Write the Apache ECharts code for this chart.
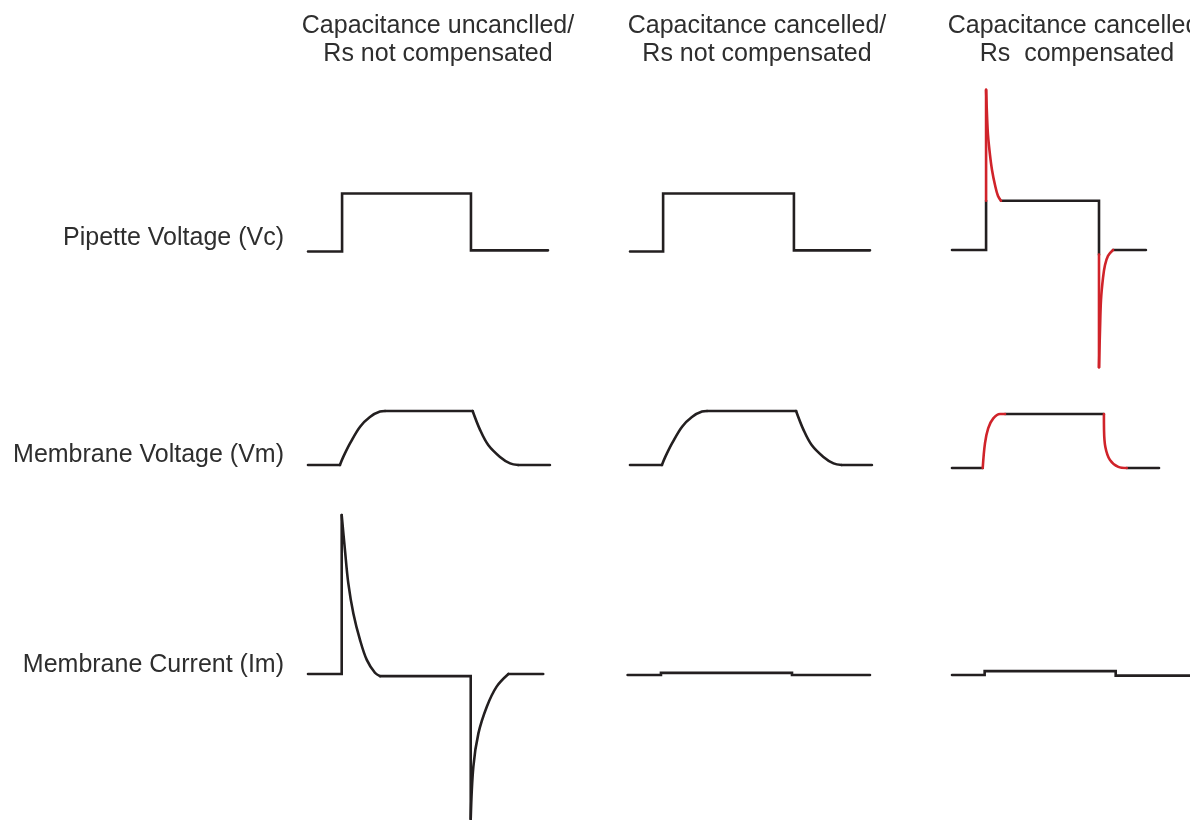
<!DOCTYPE html>
<html>
<head>
<meta charset="utf-8">
<script src="https://cdn.jsdelivr.net/npm/echarts@6/dist/echarts.min.js"></script>
<style>
html,body{margin:0;padding:0;background:#fff;}
#chart{width:1190px;height:820px;}
</style>
</head>
<body>
<div id="chart"></div>
<script>
// ---------------- DATA ----------------
const colTitles = [
  'Capacitance uncanclled/\nRs not compensated',
  'Capacitance cancelled/\nRs not compensated',
  'Capacitance cancelled/\nRs  compensated'
];
const rowLabels = ['Pipette Voltage (Vc)', 'Membrane Voltage (Vm)', 'Membrane Current (Im)'];

// [time, value] pairs — Pipette voltage (Vc)
const vcCol1 = [[0,0],[14.2,0],[14.2,10],[67.9,10],[67.9,0.2],[100,0.2]];
const vcCol2 = [[0,0],[13.8,0],[13.8,10],[68.3,10],[68.3,0.2],[100,0.2]];
const vcCol3Base = [[0,0],[14.2,0],[14.2,8.5]];
const vcCol3Top = [[20.4,8.5],[61.25,8.5],[61.25,-0.8]];
const vcCol3End = [[67.1,0],[80.8,0]];
const vcCol3RedUp = [[14.2,8.5],[14.2,27.6]];
const vcCol3RedDecay = [[14.2,27.6],[14.58,23.3],[15.0,19.8],[15.83,16.4],[16.67,13.8],[17.92,11.2],[19.17,9.3],[20.4,8.5]];
const vcCol3RedDrop = [[61.25,-0.8],[61.25,-20.2]];
const vcCol3RedRecover = [[61.25,-20.2],[61.67,-13.8],[62.08,-8.6],[62.92,-4.8],[63.75,-2.6],[65.0,-1.0],[67.1,0]];

// Membrane voltage (Vm)
const vmCol1Base = [[0,0],[13.3,0]];
const vmCol1Rise = [[13.3,0],[14.7,1.5],[17.5,4.0],[21.7,7.1],[25.8,8.9],[30,9.9],[32.1,10]];
const vmCol1Top = [[32.1,10],[68.6,10]];
const vmCol1Fall = [[68.6,10],[71.7,6.5],[75.1,3.7],[80,1.5],[84.2,0.3],[87.6,0]];
const vmCol1End = [[87.6,0],[100.8,0]];
const vmCol2Base = [[0,0],[13.3,0]];
const vmCol2Rise = [[13.3,0],[14.7,1.5],[17.5,4.0],[21.7,7.1],[25.8,8.9],[30,9.9],[32.1,10]];
const vmCol2Top = [[32.1,10],[69.2,10]];
const vmCol2Fall = [[69.2,10],[72.3,6.5],[75.7,3.7],[80.6,1.5],[84.8,0.3],[88.2,0]];
const vmCol2End = [[88.2,0],[100.8,0]];
const vmCol3Base = [[0,0],[12.8,0]];
const vmCol3RedRise = [[12.8,0],[13.75,4.6],[15.1,7.4],[17.2,9.2],[20,10],[22.1,10]];
const vmCol3Top = [[22.1,10],[63.3,10]];
const vmCol3RedFall = [[63.3,10],[63.35,7.0],[63.9,3.9],[65.8,1.5],[69.3,0.2],[72.8,0]];
const vmCol3End = [[72.8,0],[86.25,0]];

// Membrane current (Im)
const imCol1Spike = [[0,0],[14.04,0],[14.04,53]];
const imCol1Decay = [[14.04,53],[15.4,41.3],[16.8,30.2],[18.9,20.2],[21.7,11.3],[24.5,4.7],[27.9,0.4],[30,-0.7]];
const imCol1Drop = [[30,-0.7],[67.8,-0.7],[67.8,-48.3]];
const imCol1Recover = [[67.8,-48.3],[68.9,-30.9],[71.0,-19.8],[74.5,-10.9],[78.6,-4.2],[83.5,0]];
const imCol1End = [[83.5,0],[98,0]];
const imCol2 = [[-1,0],[12.9,0],[12.9,0.7],[67.5,0.7],[67.5,0],[100,0]];
const imCol3 = [[0,0],[13.6,0],[13.6,1.3],[68.2,1.3],[68.2,-0.2],[100.5,-0.2]];

// ---------------- LAYOUT / STYLE ----------------
const BLACK = '#231f20', RED = '#d0232a';
const colX0 = [308, 630, 952];          // pixel of t = 0 for each column
const colTMax = [105, 105, 99];         // keep grids inside the canvas
const pxPerT = 2.4;
const tMin = -5;
const rows = [
  {scale: 5.8, ymin: -25, ymax: 30, base: [251.5, 251.5, 250]},
  {scale: 5.4, ymin: -3, ymax: 13, base: [465, 465, 468]},
  {scale: 3.0, ymin: -48.3, ymax: 56, base: [674, 675, 675]}
];

const traces = [
  {r:0,c:0,d:vcCol1}, {r:0,c:1,d:vcCol2},
  {r:0,c:2,d:vcCol3Base}, {r:0,c:2,d:vcCol3Top}, {r:0,c:2,d:vcCol3End},
  {r:0,c:2,d:vcCol3RedUp,red:1}, {r:0,c:2,d:vcCol3RedDecay,red:1,sm:1},
  {r:0,c:2,d:vcCol3RedDrop,red:1}, {r:0,c:2,d:vcCol3RedRecover,red:1,sm:1},
  {r:1,c:0,d:vmCol1Base}, {r:1,c:0,d:vmCol1Rise,sm:1}, {r:1,c:0,d:vmCol1Top}, {r:1,c:0,d:vmCol1Fall,sm:1}, {r:1,c:0,d:vmCol1End},
  {r:1,c:1,d:vmCol2Base}, {r:1,c:1,d:vmCol2Rise,sm:1}, {r:1,c:1,d:vmCol2Top}, {r:1,c:1,d:vmCol2Fall,sm:1}, {r:1,c:1,d:vmCol2End},
  {r:1,c:2,d:vmCol3Base}, {r:1,c:2,d:vmCol3RedRise,red:1,sm:1}, {r:1,c:2,d:vmCol3Top}, {r:1,c:2,d:vmCol3RedFall,red:1,sm:1}, {r:1,c:2,d:vmCol3End},
  {r:2,c:0,d:imCol1Spike}, {r:2,c:0,d:imCol1Decay,sm:1}, {r:2,c:0,d:imCol1Drop}, {r:2,c:0,d:imCol1Recover,sm:1}, {r:2,c:0,d:imCol1End},
  {r:2,c:1,d:imCol2}, {r:2,c:2,d:imCol3}
];

const grids = [], xAxes = [], yAxes = [];
rows.forEach((row, r) => {
  for (let c = 0; c < 3; c++) {
    grids.push({
      left: colX0[c] + tMin * pxPerT,
      width: (colTMax[c] - tMin) * pxPerT,
      top: row.base[c] - row.ymax * row.scale,
      height: (row.ymax - row.ymin) * row.scale,
      containLabel: false
    });
    xAxes.push({type:'value', gridIndex: r*3+c, min: tMin, max: colTMax[c], show: false});
    yAxes.push({type:'value', gridIndex: r*3+c, min: row.ymin, max: row.ymax, show: false});
  }
});

const series = traces.map(tr => ({
  type: 'line',
  xAxisIndex: tr.r*3 + tr.c,
  yAxisIndex: tr.r*3 + tr.c,
  data: tr.d,
  symbol: 'none',
  showSymbol: false,
  clip: false,
  smooth: tr.sm ? 0.35 : false,
  lineStyle: {color: tr.red ? RED : BLACK, width: 2.6, cap: 'round', join: 'miter'},
  z: tr.red ? 3 : 2,
  silent: true
}));

const FONT = '25px "Liberation Sans", Arial, Helvetica, sans-serif';
const TEXT = '#2e2e2e';
const titleCenters = [438, 757, 1077];
const labelMiddles = [238, 455, 665];

const graphic = [];
colTitles.forEach((t, i) => graphic.push({
  type: 'text', x: titleCenters[i], y: 12,
  style: {text: t, font: FONT, fill: TEXT, align: 'center', verticalAlign: 'top', lineHeight: 28}
}));
rowLabels.forEach((t, i) => graphic.push({
  type: 'text', x: 284, y: labelMiddles[i],
  style: {text: t, font: FONT, fill: TEXT, align: 'right', verticalAlign: 'middle'}
}));

const chart = echarts.init(document.getElementById('chart'), null, {renderer: 'canvas'});
chart.setOption({
  backgroundColor: '#ffffff',
  animation: false,
  grid: grids,
  xAxis: xAxes,
  yAxis: yAxes,
  series: series,
  graphic: graphic
});
</script>
</body>
</html>
